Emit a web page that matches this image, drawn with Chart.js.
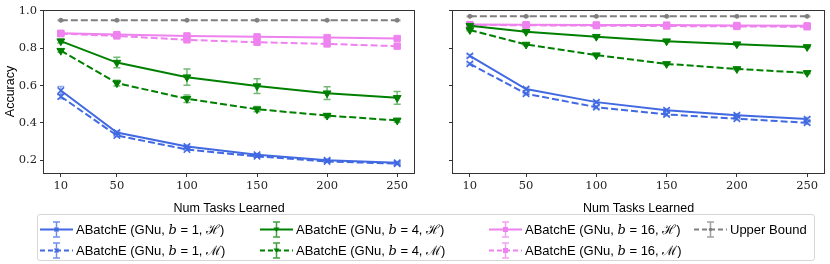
<!DOCTYPE html>
<html>
<head>
<meta charset="utf-8">
<script src="https://cdn.jsdelivr.net/npm/chart.js@4.4.0/dist/chart.umd.min.js"></script>
<style>
  body { margin: 0; background: #fff; width: 830px; height: 264px; overflow: hidden; position: relative; }
  canvas { position: absolute; top: 0; }
  #left-wrap { position: absolute; left: 0; top: 0; width: 420px; height: 216px; }
  #right-wrap { position: absolute; left: 430px; top: 0; width: 400px; height: 216px; }
  #legend { position: absolute; left: 37px; top: 214px; width: 778px; height: 47px; border: 1px solid #d6d6d6; border-radius: 3px; box-sizing: border-box; font-family: "Liberation Sans", sans-serif; font-size: 13px; color: #000; }
  .item { position: absolute; height: 20px; display: flex; align-items: center; white-space: nowrap; }
  .item svg { margin-right: 3px; }
  .m { font-family: "DejaVu Serif", serif; font-style: italic; }
  .c { font-family: "DejaVu Serif", serif; }
</style>
</head>
<body>
<div id="left-wrap"><canvas id="left-chart"></canvas></div>
<div id="right-wrap"><canvas id="right-chart"></canvas></div>
<div id="legend"></div>
<script>
// Accuracy vs number of tasks learned, two panels

const tasks = [10, 50, 100, 150, 200, 250];
const xTicks = [10, 50, 100, 150, 200, 250];
const yTicks = [0.2, 0.4, 0.6, 0.8, 1.0];

// left panel
const leftUpper = [0.950, 0.950, 0.950, 0.950, 0.950, 0.950];
const leftUpperErr = [0.002, 0.002, 0.002, 0.002, 0.002, 0.002];
const leftB1H = [0.573, 0.348, 0.273, 0.229, 0.200, 0.186];
const leftB1HErr = [0.022, 0.008, 0.008, 0.006, 0.006, 0.006];
const leftB1M = [0.541, 0.332, 0.257, 0.220, 0.193, 0.181];
const leftB1MErr = [0.012, 0.006, 0.006, 0.005, 0.005, 0.005];
const leftB4H = [0.838, 0.723, 0.645, 0.597, 0.559, 0.534];
const leftB4HErr = [0.010, 0.028, 0.043, 0.040, 0.034, 0.034];
const leftB4M = [0.787, 0.613, 0.529, 0.473, 0.439, 0.413];
const leftB4MErr = [0.008, 0.015, 0.020, 0.014, 0.010, 0.010];
const leftB16H = [0.880, 0.873, 0.866, 0.861, 0.857, 0.852];
const leftB16HErr = [0.005, 0.006, 0.006, 0.006, 0.006, 0.006];
const leftB16M = [0.878, 0.866, 0.845, 0.832, 0.823, 0.811];
const leftB16MErr = [0.005, 0.006, 0.006, 0.006, 0.006, 0.006];

// right panel
const rightUpper = [0.971, 0.971, 0.971, 0.971, 0.971, 0.971];
const rightUpperErr = [0.002, 0.002, 0.002, 0.002, 0.002, 0.002];
const rightB1H = [0.759, 0.581, 0.511, 0.468, 0.441, 0.420];
const rightB1HErr = [0.008, 0.008, 0.008, 0.008, 0.008, 0.008];
const rightB1M = [0.716, 0.556, 0.484, 0.445, 0.422, 0.400];
const rightB1MErr = [0.006, 0.007, 0.007, 0.007, 0.007, 0.007];
const rightB4H = [0.921, 0.888, 0.862, 0.838, 0.822, 0.807];
const rightB4HErr = [0.004, 0.004, 0.004, 0.004, 0.004, 0.004];
const rightB4M = [0.898, 0.820, 0.763, 0.716, 0.689, 0.668];
const rightB4MErr = [0.004, 0.005, 0.005, 0.005, 0.005, 0.005];
const rightB16H = [0.927, 0.926, 0.925, 0.924, 0.922, 0.920];
const rightB16HErr = [0.004, 0.004, 0.004, 0.004, 0.004, 0.004];
const rightB16M = [0.925, 0.923, 0.921, 0.919, 0.917, 0.915];
const rightB16MErr = [0.004, 0.004, 0.004, 0.004, 0.004, 0.004];

const BLUE = '#4169e1';
const GREEN = '#008000';
const PINK = '#ee82ee';
const GRAY = '#808080';
const DASH = [7, 3];

const seriesStyle = [
  { key: 'Upper', color: GRAY, dash: DASH, point: 'circle', radius: 2, rot: 0 },
  { key: 'B1H', color: BLUE, dash: [], point: 'crossRot', radius: 4.5, rot: 0 },
  { key: 'B1M', color: BLUE, dash: DASH, point: 'crossRot', radius: 4.5, rot: 0 },
  { key: 'B4H', color: GREEN, dash: [], point: 'triangle', radius: 4.5, rot: 180 },
  { key: 'B4M', color: GREEN, dash: DASH, point: 'triangle', radius: 4.5, rot: 180 },
  { key: 'B16H', color: PINK, dash: [], point: 'rect', radius: 4.5, rot: 0 },
  { key: 'B16M', color: PINK, dash: DASH, point: 'rect', radius: 4.5, rot: 0 }
];

function hexAlpha(hex, a) {
  const n = parseInt(hex.slice(1), 16);
  return `rgba(${(n >> 16) & 255},${(n >> 8) & 255},${n & 255},${a})`;
}

function buildDatasets(values, errors) {
  return seriesStyle.map((s, i) => ({
    data: tasks.map((t, j) => ({ x: t, y: values[i][j] })),
    errors: errors[i],
    borderColor: s.color,
    backgroundColor: s.color,
    borderWidth: 2,
    borderDash: s.dash,
    pointStyle: s.point,
    pointRadius: s.radius,
    pointRotation: s.rot,
    pointBorderWidth: s.point === 'crossRot' ? 1.5 : 1,
    pointBackgroundColor: s.color,
    pointBorderColor: s.color,
    tension: 0,
    fill: false
  }));
}

// vertical error bars with caps, drawn from the scales
const errorBars = {
  id: 'errorBars',
  beforeDatasetsDraw(chart) {
    const ctx = chart.ctx;
    const xs = chart.scales.x, ys = chart.scales.y;
    chart.data.datasets.forEach(ds => {
      if (!ds.errors) return;
      ctx.save();
      ctx.strokeStyle = hexAlpha(ds.borderColor, 0.55);
      ctx.lineWidth = 1.5;
      ds.data.forEach((p, j) => {
        const e = ds.errors[j];
        const px = xs.getPixelForValue(p.x);
        const top = ys.getPixelForValue(p.y + e);
        const bot = ys.getPixelForValue(p.y - e);
        ctx.beginPath();
        ctx.moveTo(px, top); ctx.lineTo(px, bot);
        ctx.moveTo(px - 3.5, top); ctx.lineTo(px + 3.5, top);
        ctx.moveTo(px - 3.5, bot); ctx.lineTo(px + 3.5, bot);
        ctx.stroke();
      });
      ctx.restore();
    });
  }
};

// full box around plotting area
const frame = {
  id: 'frame',
  afterDraw(chart) {
    const a = chart.chartArea, ctx = chart.ctx;
    ctx.save();
    ctx.strokeStyle = '#333';
    ctx.lineWidth = 1;
    ctx.strokeRect(Math.round(a.left) - 0.5, Math.round(a.top) + 0.5, Math.round(a.right - a.left) + 1, Math.round(a.bottom - a.top));
    ctx.restore();
  }
};

function makeChart(canvasId, values, errors, showY, yWidth, rightPad) {
  return new Chart(document.getElementById(canvasId), {
    type: 'line',
    data: { datasets: buildDatasets(values, errors) },
    plugins: [errorBars, frame],
    options: {
      responsive: true,
      maintainAspectRatio: false,
      animation: false,
      layout: { padding: { top: 10, right: rightPad, left: 0, bottom: 0 } },
      plugins: { legend: { display: false }, tooltip: { enabled: false } },
      scales: {
        x: {
          type: 'linear',
          min: -2,
          max: 262,
          afterBuildTicks: axis => { axis.ticks = xTicks.map(v => ({ value: v })); },
          afterFit: axis => { axis.height = 43; },
          grid: { drawOnChartArea: false, drawTicks: true, tickLength: 4, color: '#333' },
          border: { display: false },
          ticks: { font: { family: 'DejaVu Serif', size: 11.5 }, color: '#222', padding: 2, maxRotation: 0 },
          title: { display: true, text: 'Num Tasks Learned', font: { family: 'Liberation Sans', size: 12.5 }, color: '#000', padding: { top: 0, bottom: 0 } }
        },
        y: {
          min: 0.131,
          max: 1.005,
          afterBuildTicks: axis => { axis.ticks = yTicks.map(v => ({ value: v })); },
          afterFit: axis => { axis.width = yWidth; },
          grid: { drawOnChartArea: false, drawTicks: true, tickLength: 4, color: '#333' },
          border: { display: false },
          ticks: {
            display: showY,
            font: { family: 'DejaVu Serif', size: 11.5 },
            color: '#222',
            padding: 3,
            callback: v => v.toFixed(1)
          },
          title: { display: showY, text: 'Accuracy', font: { family: 'Liberation Sans', size: 12.5 }, color: '#000', padding: { top: 3, bottom: 0 } }
        }
      }
    }
  });
}

makeChart('left-chart',
  [leftUpper, leftB1H, leftB1M, leftB4H, leftB4M, leftB16H, leftB16M],
  [leftUpperErr, leftB1HErr, leftB1MErr, leftB4HErr, leftB4MErr, leftB16HErr, leftB16MErr],
  true, 44, 5);

makeChart('right-chart',
  [rightUpper, rightB1H, rightB1M, rightB4H, rightB4M, rightB16H, rightB16M],
  [rightUpperErr, rightB1HErr, rightB1MErr, rightB4HErr, rightB4MErr, rightB16HErr, rightB16MErr],
  false, 23, 6);

// legend, column-major like the original
const legendItems = [
  { s: 1, b: '1', set: 'ℋ', x: 2, y: 4 },
  { s: 2, b: '1', set: 'ℳ', x: 2, y: 25 },
  { s: 3, b: '4', set: 'ℋ', x: 222, y: 4 },
  { s: 4, b: '4', set: 'ℳ', x: 222, y: 25 },
  { s: 5, b: '16', set: 'ℋ', x: 451, y: 4 },
  { s: 6, b: '16', set: 'ℳ', x: 451, y: 25 },
  { s: 0, label: 'Upper Bound', x: 656, y: 4 }
];

function handleSvg(st) {
  const c = st.color;
  const dash = st.dash.length ? 'stroke-dasharray="5,3"' : '';
  let marker = '';
  if (st.point === 'crossRot') marker = `<path d="M14.5,7.5 L18.5,11.5 M18.5,7.5 L14.5,11.5" stroke="${c}" stroke-width="1.5"/>`;
  else if (st.point === 'triangle') marker = `<path d="M13.5,7.5 L19.5,7.5 L16.5,12 Z" fill="${c}"/>`;
  else if (st.point === 'rect') marker = `<rect x="14" y="7" width="5" height="5" fill="${c}"/>`;
  else marker = `<circle cx="16.5" cy="9.5" r="1.8" fill="${c}"/>`;
  return `<svg width="33" height="19" viewBox="0 0 33 19">
    <line x1="0" y1="9.5" x2="33" y2="9.5" stroke="${c}" stroke-width="2" ${dash}/>
    <path d="M16.5,2 L16.5,17 M13,2 L20,2 M13,17 L20,17" stroke="${hexAlpha(c, 0.75)}" stroke-width="1.5" fill="none"/>
    ${marker}</svg>`;
}

const legendDiv = document.getElementById('legend');
legendItems.forEach(it => {
  const d = document.createElement('div');
  d.className = 'item';
  d.style.left = it.x + 'px';
  d.style.top = it.y + 'px';
  const text = it.label
    ? it.label
    : `ABatchE (GNu, <span class="m">b</span> = ${it.b}, <span class="c">${it.set}</span>)`;
  d.innerHTML = handleSvg(seriesStyle[it.s]) + '<span>' + text + '</span>';
  legendDiv.appendChild(d);
});
</script>
</body>
</html>
